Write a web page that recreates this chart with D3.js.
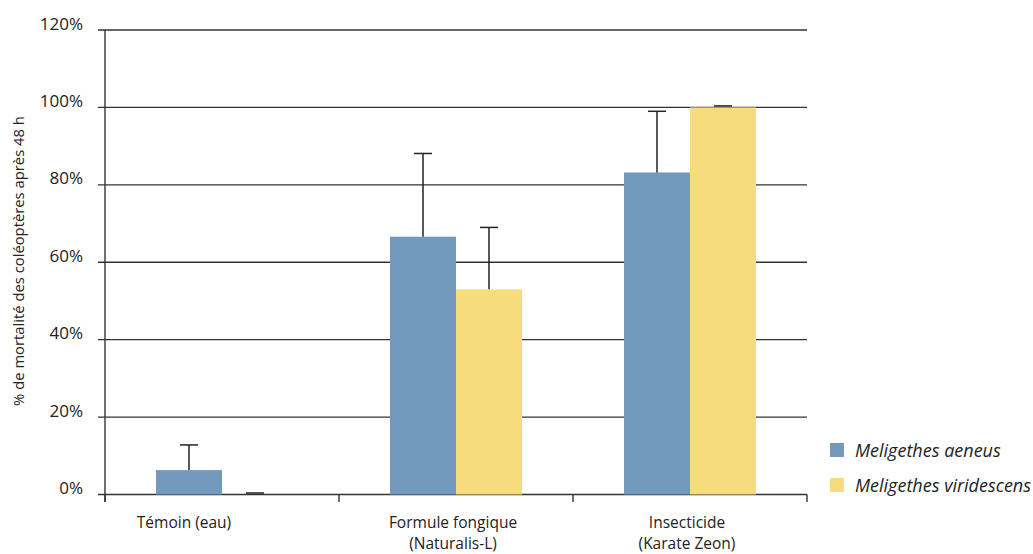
<!DOCTYPE html>
<html>
<head>
<meta charset="utf-8">
<script src="https://cdn.jsdelivr.net/npm/d3@7"></script>
<style>
  body { margin: 0; background: #fff; }
  svg { display: block; font-family: "Open Sans", sans-serif; }
</style>
</head>
<body>
<svg id="chart" width="1033" height="554"></svg>
<script>
// données
const categories = [["Témoin (eau)"], ["Formule fongique", "(Naturalis-L)"], ["Insecticide", "(Karate Zeon)"]]
const series = ["Meligethes aeneus", "Meligethes viridescens"]
const aeneus = [6.3, 66.6, 83.2]
const aeneusErr = [6.5, 21.5, 15.8]
const viridescens = [0, 53.0, 100]
const viridescensErr = [0, 16.0, 0]
const yTicks = [0, 20, 40, 60, 80, 100, 120]

const colors = ["#7399bd", "#f6dc7c"]
const svg = d3.select("#chart")

const x0 = d3.scaleBand().domain(d3.range(categories.length)).range([105, 807]).paddingInner(0).paddingOuter(0)
const x1 = d3.scaleBand().domain(d3.range(series.length)).range([51, 234 - 51])
const y = d3.scaleLinear().domain([0, 120]).range([494.5, 30])

// lignes horizontales + graduations
svg.append("g").selectAll("line")
    .data(yTicks)
    .join("line")
    .attr("x1", 98).attr("x2", 807)
    .attr("y1", d => y(d)).attr("y2", d => y(d))
    .attr("stroke", "#333").attr("stroke-width", 1.4)

svg.append("g").selectAll("text")
    .data(yTicks)
    .join("text")
    .attr("x", 83).attr("y", d => y(d) - 5)
    .attr("text-anchor", "end")
    .attr("dominant-baseline", "middle")
    .attr("font-size", 17)
    .attr("fill", "#222")
    .text(d => d + "%")

// barres
const data = categories.map((c, i) => [
    { s: 0, v: aeneus[i], e: aeneusErr[i] },
    { s: 1, v: viridescens[i], e: viridescensErr[i] }
])

const groups = svg.append("g").selectAll("g")
    .data(data)
    .join("g")
    .attr("transform", (d, i) => `translate(${x0(i)},0)`)

groups.selectAll("rect")
    .data(d => d)
    .join("rect")
    .attr("x", d => x1(d.s))
    .attr("width", x1.bandwidth())
    .attr("y", d => y(d.v))
    .attr("height", d => y(0) - y(d.v))
    .attr("fill", d => colors[d.s])

// barres d'erreur
groups.selectAll("line.err")
    .data(d => d)
    .join("line")
    .attr("class", "err")
    .attr("x1", d => x1(d.s) + x1.bandwidth() / 2)
    .attr("x2", d => x1(d.s) + x1.bandwidth() / 2)
    .attr("y1", d => y(d.v))
    .attr("y2", d => y(d.v + d.e))
    .attr("stroke", "#222").attr("stroke-width", 1.5)

groups.selectAll("line.cap")
    .data(d => d)
    .join("line")
    .attr("class", "cap")
    .attr("x1", d => x1(d.s) + x1.bandwidth() / 2 - 9)
    .attr("x2", d => x1(d.s) + x1.bandwidth() / 2 + 9)
    .attr("y1", d => y(d.v + d.e) - (d.e === 0 ? 1.5 : 0))
    .attr("y2", d => y(d.v + d.e) - (d.e === 0 ? 1.5 : 0))
    .attr("stroke", "#222").attr("stroke-width", 1.5)

// axes
svg.append("line")
    .attr("x1", 105).attr("x2", 105)
    .attr("y1", 30).attr("y2", 502)
    .attr("stroke", "#333").attr("stroke-width", 1.4)

svg.append("g").selectAll("line")
    .data(d3.range(categories.length + 1))
    .join("line")
    .attr("x1", d => 105 + d * x0.bandwidth())
    .attr("x2", d => 105 + d * x0.bandwidth())
    .attr("y1", y(0)).attr("y2", 502)
    .attr("stroke", "#333").attr("stroke-width", 1.4)

svg.append("g").selectAll("text")
    .data(categories)
    .join("text")
    .attr("x", (d, i) => x0(i) + x0.bandwidth() / 2 - (i === 0 ? 38 : 3))
    .attr("y", 528)
    .attr("text-anchor", "middle")
    .attr("font-size", 15.5)
    .attr("fill", "#222")
    .selectAll("tspan")
    .data(d => d)
    .join("tspan")
    .attr("x", function () { return d3.select(this.parentNode).attr("x") })
    .attr("dy", (d, i) => i === 0 ? 0 : 21)
    .text(d => d)

// titre axe y
svg.append("text")
    .attr("transform", "translate(24,261) rotate(-90)")
    .attr("text-anchor", "middle")
    .attr("font-size", 14.8)
    .attr("fill", "#222")
    .text("% de mortalité des coléoptères après 48 h")

// légende
const legend = svg.append("g").selectAll("g")
    .data(series)
    .join("g")
    .attr("transform", (d, i) => `translate(830,${443 + i * 35})`)

legend.append("rect")
    .attr("width", 14).attr("height", 14)
    .attr("fill", (d, i) => colors[i])

legend.append("text")
    .attr("x", 25).attr("y", 14)
    .attr("font-size", 18)
    .attr("font-style", "italic")
    .attr("fill", "#222")
    .text(d => d)
</script>
</body>
</html>
